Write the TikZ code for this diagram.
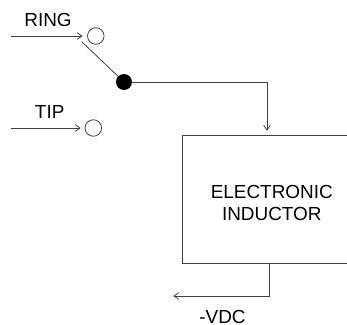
\documentclass[tikz,border=0pt]{standalone}
\usepackage{fontspec}
\setmainfont{Liberation Sans}
\usetikzlibrary{arrows.meta}
\tikzset{
  wire/.style={draw=black!75,line width=0.6pt},
  arrowwire/.style={wire,-{Straight Barb[length=3.6pt,width=5pt,line width=0.6pt]}},
  term/.style={circle,draw=black!75,line width=0.6pt,minimum size=12.4pt,inner sep=0pt},
  dot/.style={circle,fill=black,minimum size=12pt,inner sep=0pt},
  label/.style={inner sep=0pt,font=\fontsize{14.2pt}{17pt}\selectfont,align=center},
  shortlabel/.style={inner sep=0pt,font=\fontsize{14.2pt}{17pt}\selectfont},
}
\begin{document}
\begin{tikzpicture}[x=0.75pt,y=-0.75pt]
\useasboundingbox (0,0) rectangle (347,325);
\node[term] (ring) at (95.8,36) {};
\node[term] (tip) at (93.3,128) {};
\node[dot] (common) at (124,82) {};
\node[draw=black!75,line width=0.6pt,minimum width=128pt,minimum height=96pt,inner sep=0pt,anchor=north west] (box) at (181.5,134.5) {};
\coordinate (ringin) at (11,36);
\coordinate (tipin) at (11,128);
\coordinate (swtop) at (81.7,41.7);
\coordinate (boxin) at (267,130.7);
\coordinate (boxout) at (269.4,262.5);
\coordinate (vdc) at (173.3,296);
\draw[arrowwire,shorten >=3.4pt] (ringin) -- (ring.west);
\draw[arrowwire,shorten >=3pt] (tipin) -- (tip.west);
\draw[wire] (swtop) -- (common);
\draw[arrowwire] (common) -| (boxin);
\draw[arrowwire] (boxout) |- (vdc);
\node[shortlabel] (lring) at (48,20) {RING};
\node[shortlabel] (ltip) at (49.7,111.5) {TIP};
\node[label] (lbox) at (271.8,203) {ELECTRONIC\\INDUCTOR};
\node[shortlabel] (lvdc) at (222.5,316.5) {-VDC};
\end{tikzpicture}
\end{document}
